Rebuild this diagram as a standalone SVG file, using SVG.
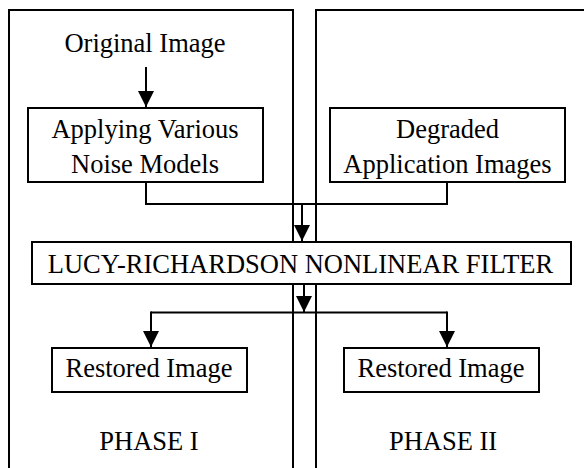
<svg xmlns="http://www.w3.org/2000/svg" width="584" height="468" viewBox="0 0 584 468">
  <style>
    text { font-family: "Liberation Serif", "Times New Roman", serif; font-size: 26.5px; fill: #000; text-anchor: middle; }
    .box { fill: #fff; stroke: #000; stroke-width: 2; }
    .panel { fill: none; stroke: #000; stroke-width: 2; }
    .wire { fill: none; stroke: #000; stroke-width: 2; }
  </style>
  <defs>
    <marker id="arrow" markerUnits="userSpaceOnUse" markerWidth="17" markerHeight="17" refX="16" refY="8" orient="auto">
      <path d="M0,0 L16,8 L0,16 Z" fill="#000"/>
    </marker>
  </defs>
  <rect width="584" height="468" fill="#fff"/>

  <!-- phase panels -->
  <g id="panel-phase1">
    <path class="panel" d="M9,468 V10 H293 V468"/>
    <text x="149" y="450">PHASE I</text>
  </g>
  <g id="panel-phase2">
    <path class="panel" d="M316,468 V10 H584"/>
    <text x="443" y="450">PHASE II</text>
  </g>

  <!-- connectors -->
  <g id="connectors">
    <path class="wire" d="M146,67 V107" marker-end="url(#arrow)"/>
    <path class="wire" d="M146,182 V204 H447 V182"/>
    <path class="wire" d="M302,204 V241" marker-end="url(#arrow)"/>
    <path class="wire" d="M304,284 V312" marker-end="url(#arrow)"/>
    <path class="wire" d="M151,312.5 H447"/>
    <path class="wire" d="M151,311.5 V347" marker-end="url(#arrow)"/>
    <path class="wire" d="M447,311.5 V347" marker-end="url(#arrow)"/>
  </g>

  <g id="original-image">
    <text x="145" y="52">Original Image</text>
  </g>

  <g id="noise-models">
    <rect class="box" x="28" y="108" width="235" height="74"/>
    <text x="145" y="138">Applying Various</text>
    <text x="145" y="173">Noise Models</text>
  </g>

  <g id="degraded-images">
    <rect class="box" x="330" y="108" width="235" height="74"/>
    <text x="447.5" y="138">Degraded</text>
    <text x="447.5" y="173">Application Images</text>
  </g>

  <g id="lr-filter">
    <rect class="box" x="32" y="242" width="539" height="42"/>
    <text x="300.5" y="272.5">LUCY-RICHARDSON NONLINEAR FILTER</text>
  </g>

  <g id="restored-1">
    <rect class="box" x="52" y="348" width="195" height="44"/>
    <text x="149" y="377">Restored Image</text>
  </g>

  <g id="restored-2">
    <rect class="box" x="344" y="348" width="195" height="44"/>
    <text x="441" y="377">Restored Image</text>
  </g>
</svg>
